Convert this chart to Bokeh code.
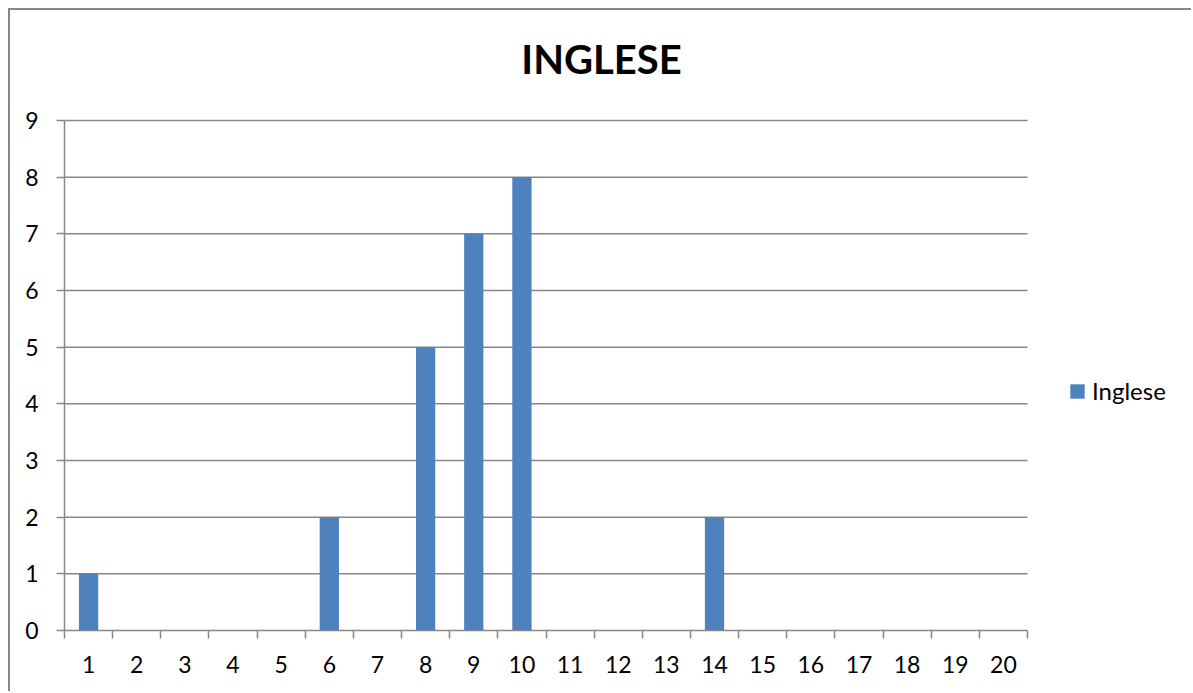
from bokeh.plotting import figure
from bokeh.models import FixedTicker, Legend, LegendItem, Range1d, Label
from bokeh.embed import file_html
from bokeh.resources import INLINE

categories = list(range(1, 21))
values = [1, 0, 0, 0, 0, 2, 0, 5, 7, 8, 0, 0, 0, 2, 0, 0, 0, 0, 0, 0]
y_ticks = list(range(0, 10))
title_text = "INGLESE"
series_name = "Inglese"

FONT = "Lato"
GRAY = "#878787"

# frame spans the canvas to the right and top edges; the chart occupies
# x in [0.5, 20.5] and y in [0, 9] of it, leaving room for title and legend
x_lo, x_hi = categories[0] - 0.5, categories[-1] + 0.5
y_lo, y_hi = y_ticks[0], y_ticks[-1]
px_x = 963 / (x_hi - x_lo)
px_y = 510 / (y_hi - y_lo)
frame_w, frame_h = 1183 - 54, 683 - 63

p = figure(width=1183, height=683, output_backend="svg", toolbar_location=None,
           x_range=Range1d(x_lo, x_lo + frame_w / px_x),
           y_range=Range1d(y_lo, y_lo + frame_h / px_y),
           min_border_left=54, min_border_top=0, min_border_right=0, min_border_bottom=63,
           styles={"margin-left": "8px", "margin-top": "8px",
                   "border-left": "2px solid #868686", "border-top": "2px solid #868686"})
p.outline_line_color = None
p.background_fill_color = "white"
p.border_fill_color = "white"
p.xgrid.grid_line_color = None
p.ygrid.grid_line_color = None

# horizontal gridlines
p.segment(x0=[x_lo] * (len(y_ticks) - 1), x1=[x_hi] * (len(y_ticks) - 1),
          y0=y_ticks[1:], y1=y_ticks[1:], line_color=GRAY, line_width=1.5)

r = p.vbar(x=categories, top=values, width=0.4, fill_color="#4F81BD", line_color=None)

# x axis
p.xaxis.bounds = (x_lo, x_hi)
p.xaxis.ticker = FixedTicker(ticks=categories, minor_ticks=[c - 0.5 for c in categories] + [x_hi])
p.xaxis.major_tick_line_color = None
p.xaxis.major_tick_out = 0
p.xaxis.major_tick_in = 0
p.xaxis.minor_tick_line_color = GRAY
p.xaxis.minor_tick_line_width = 1.5
p.xaxis.minor_tick_out = 8
p.xaxis.minor_tick_in = 0
p.xaxis.axis_line_color = GRAY
p.xaxis.axis_line_width = 1.5
p.xaxis.major_label_standoff = 17
p.xaxis.major_label_text_font = FONT
p.xaxis.major_label_text_font_size = "23px"
p.xaxis.major_label_text_color = "black"

# y axis
p.yaxis.bounds = (y_lo, y_hi)
p.yaxis.ticker = FixedTicker(ticks=y_ticks)
p.yaxis.major_tick_line_color = GRAY
p.yaxis.major_tick_line_width = 1.5
p.yaxis.major_tick_out = 8
p.yaxis.major_tick_in = 0
p.yaxis.minor_tick_line_color = None
p.yaxis.axis_line_color = GRAY
p.yaxis.axis_line_width = 1.5
p.yaxis.major_label_standoff = 18
p.yaxis.major_label_text_font = FONT
p.yaxis.major_label_text_font_size = "23px"
p.yaxis.major_label_text_color = "black"

title = Label(x=537, y=572, x_units="screen", y_units="screen", text=title_text,
              text_font=FONT, text_font_size="40px", text_font_style="bold",
              text_align="center", text_baseline="middle", text_color="black")
p.add_layout(title)

legend = Legend(items=[LegendItem(label=series_name, renderers=[r])],
                location=(1004, 225), padding=0, margin=0, spacing=0,
                glyph_width=18, glyph_height=18, label_height=24, label_standoff=6,
                label_text_font=FONT, label_text_font_size="24px", label_text_color="black",
                label_text_baseline="middle",
                border_line_color=None, background_fill_alpha=0)
p.add_layout(legend, "center")

open("out.html", "w").write(file_html(p, INLINE))
